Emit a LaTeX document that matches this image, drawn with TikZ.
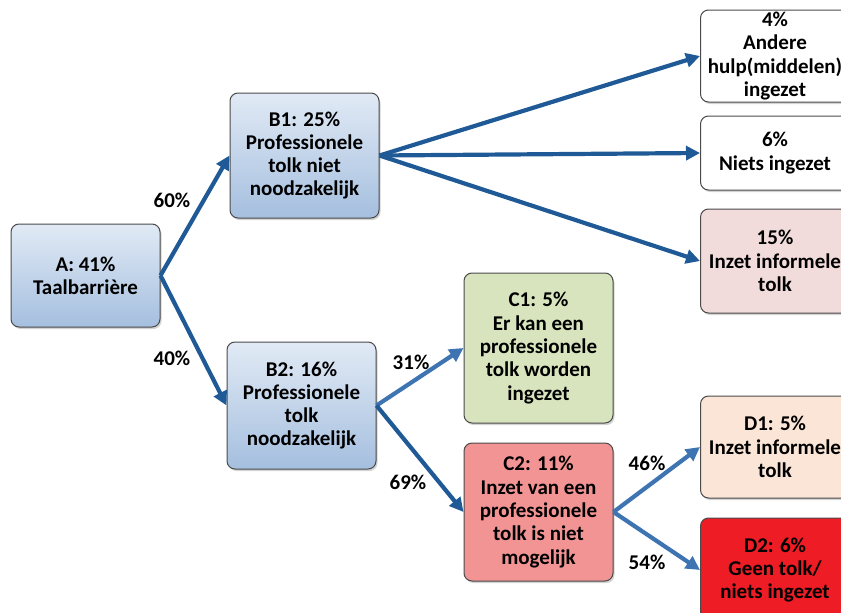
\documentclass[tikz,border=0pt]{standalone}
\usepackage{fontspec}
\setmainfont{Carlito}
\usepackage{tikz}
\usetikzlibrary{arrows.meta}
\usetikzlibrary{shadows}

\definecolor{boxline}{HTML}{4A4A4A}
\definecolor{blueTop}{HTML}{E1EAF5}
\definecolor{blueBot}{HTML}{A5BFDF}
\definecolor{greenbox}{HTML}{D7E4BD}
\definecolor{pinkbox}{HTML}{F29494}
\definecolor{rosebox}{HTML}{F2DCDB}
\definecolor{peachbox}{HTML}{FBE5D6}
\definecolor{redbox}{HTML}{EE1C24}
\definecolor{linkdark}{HTML}{1F5A96}
\definecolor{linklight}{HTML}{3F74B3}

\begin{document}
\begin{tikzpicture}[x=1pt, y=-1pt,
  >={Triangle[length=14pt, width=14pt]},
  box/.style={draw=boxline, line width=1pt, rounded corners=8pt, align=center,
    inner sep=0pt, minimum width=149pt,
    font=\fontsize{21}{23.3}\selectfont\bfseries,
    drop shadow={shadow xshift=1.5pt, shadow yshift=-2pt, opacity=0.35}},
  bluebox/.style={box, top color=blueTop, bottom color=blueBot},
  pct/.style={font=\fontsize{21}{23.3}\selectfont\bfseries},
  link/.style={->, line width=4.2pt, draw=linkdark},
  linkb/.style={->, line width=4.2pt, draw=linklight}]
\useasboundingbox (0,0) rectangle (841,613);

\node [bluebox, minimum height=103pt] (A) at (85.5,275.5) {A: 41\%\\Taalbarrière};
\node [bluebox, minimum height=125pt] (B1) at (304.5,155.5) {B1: 25\%\\Professionele\\tolk niet\\noodzakelijk};
\node [bluebox, minimum height=127pt] (B2) at (301.5,405.5) {B2: 16\%\\Professionele\\tolk\\noodzakelijk};
\node [box, fill=greenbox, minimum height=150pt] (C1) at (538.5,348) {C1: 5\%\\Er kan een\\professionele\\tolk worden\\ingezet};
\node [box, fill=pinkbox, minimum height=138pt] (C2) at (538.5,512) {C2: 11\%\\Inzet van een\\professionele\\tolk is niet\\mogelijk};
\node [box, fill=white, minimum height=92pt] (E1) at (775,56) {4\%\\Andere\\hulp(middelen)\\ingezet};
\node [box, fill=white, minimum height=74pt] (E2) at (775,153) {6\%\\Niets ingezet};
\node [box, fill=rosebox, minimum height=104pt] (E3) at (775,261) {15\%\\Inzet informele\\tolk};
\node [box, fill=peachbox, minimum height=102pt] (D1) at (775,447) {D1: 5\%\\Inzet informele\\tolk};
\node [box, fill=redbox, minimum height=104pt] (D2) at (775,570) {D2: 6\%\\Geen tolk/\\niets ingezet};

\node [pct] (p60) at (172,200) {60\%};
\node [pct] (p40) at (172,358) {40\%};
\node [pct] (p31) at (411,362) {31\%};
\node [pct] (p69) at (408,482) {69\%};
\node [pct] (p46) at (647,463) {46\%};
\node [pct] (p54) at (647,562) {54\%};

\draw [link] (A.east) -- (B1.west);
\draw [link] (A.east) -- (B2.west);
\draw [link] (B1.east) -- (E1.west);
\draw [link] (B1.east) -- (E2.west);
\draw [link] (B1.east) -- (E3.west);
\draw [linkb] (B2.east) -- (C1.west);
\draw [link] (B2.east) -- (C2.west);
\draw [linkb] (C2.east) -- (D1.west);
\draw [linkb] (C2.east) -- (D2.west);
\end{tikzpicture}
\end{document}
